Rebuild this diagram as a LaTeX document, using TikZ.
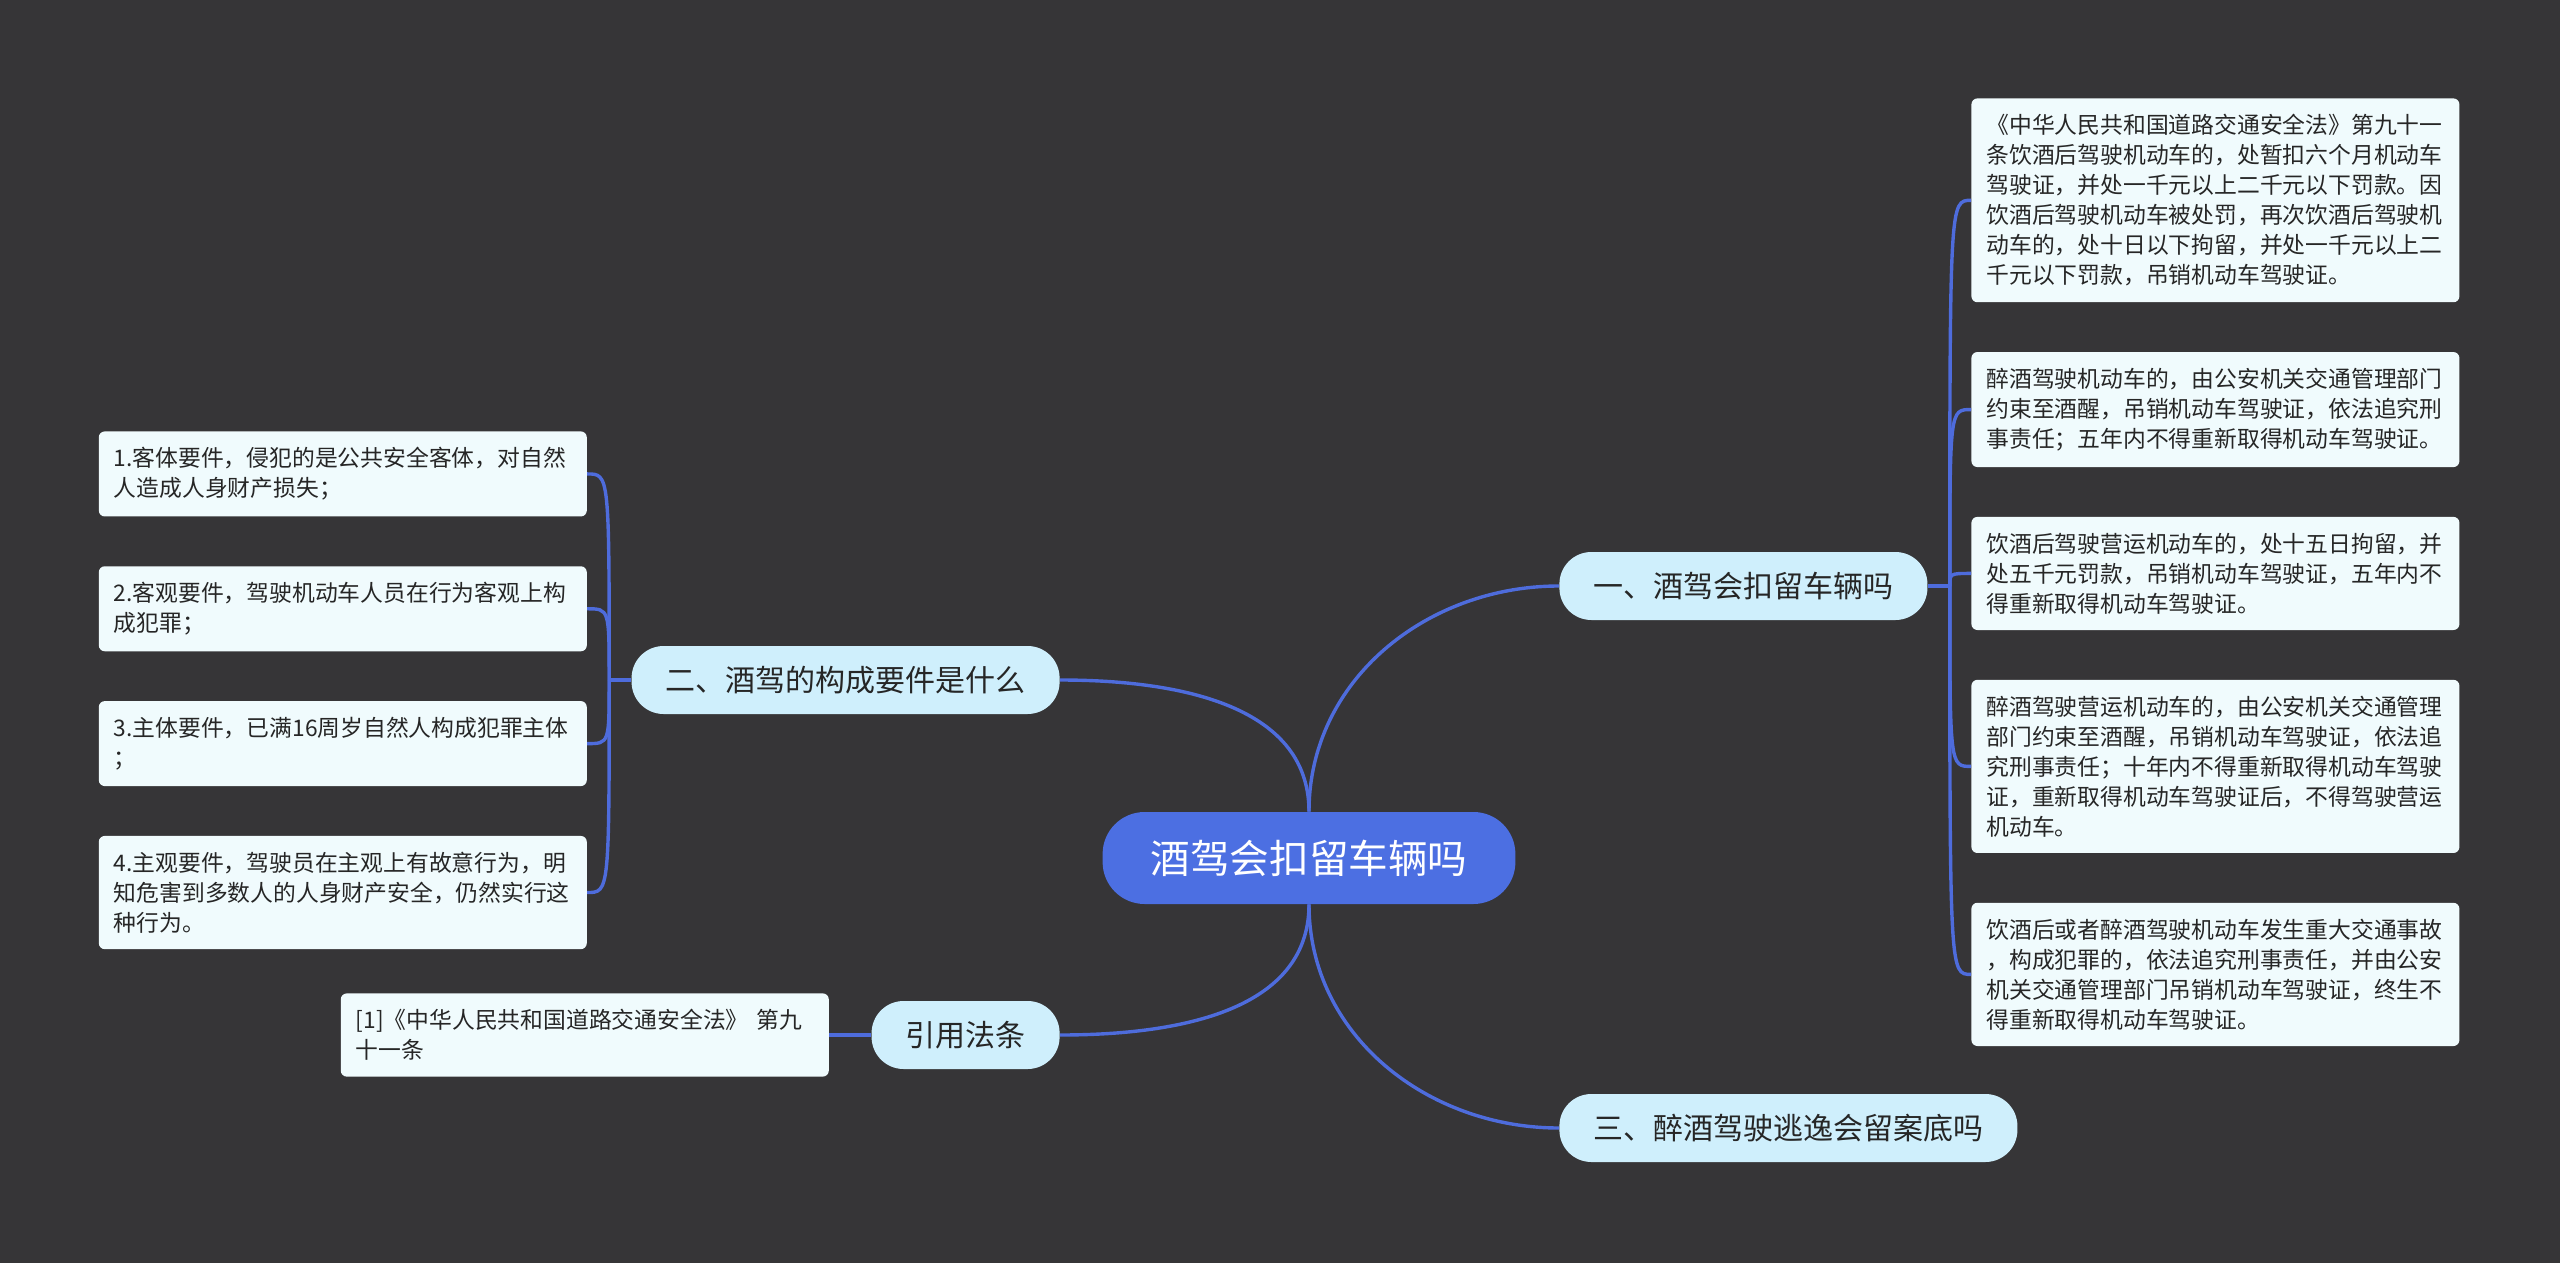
\documentclass[tikz,border=0pt]{standalone}
\usepackage{fontspec}
\newfontfamily\cjk{Noto Sans CJK SC}
\usetikzlibrary{positioning}
\definecolor{bgdark}{RGB}{54,53,55}
\definecolor{linkblue}{RGB}{78,108,220}
\definecolor{mainblue}{RGB}{76,111,226}
\definecolor{branchfill}{RGB}{207,239,252}
\definecolor{leaffill}{RGB}{240,251,253}
\tikzset{
  mainnode/.style={font=\cjk\fontsize{19.8}{24}\selectfont, fill=mainblue, text=white,
    rounded corners=21pt, minimum height=46pt, inner xsep=24pt},
  branch/.style={font=\cjk\fontsize{15}{18}\selectfont, fill=branchfill, text=black!85,
    rounded corners=16pt, minimum height=34pt, inner xsep=17pt},
  leaf/.style={font=\cjk\fontsize{11.4}{15}\selectfont, fill=leaffill, text=black!85,
    rounded corners=3pt, text width=229pt, align=left, inner xsep=7.5pt, inner ysep=8pt},
  link/.style={draw=linkblue, line width=1.7pt}
}
\begin{document}
\begin{tikzpicture}[x=0.5pt, y=-0.5pt, node distance=24.5pt]
    \fill[bgdark] (0,0) rectangle (2560,1263);
    \useasboundingbox (0,0) rectangle (2560,1263);

    \node[mainnode] (main) at (1309,858) {酒驾会扣留车辆吗};

    \node[branch, anchor=west] (b1) at ([shift={(250,-272)}]main.center) {一、酒驾会扣留车辆吗};
    \node[branch, anchor=east] (b2) at ([shift={(-249,-178)}]main.center) {二、酒驾的构成要件是什么};
    \node[branch, anchor=west] (b3) at ([shift={(250,270)}]main.center) {三、醉酒驾驶逃逸会留案底吗};
    \node[branch, anchor=east] (b4) at ([shift={(-249,177)}]main.center) {引用法条};

    \node[leaf, anchor=north west] (r1) at ([shift={(412,-488)}]b1.west) {《中华人民共和国道路交通安全法》第九十一\\条饮酒后驾驶机动车的，处暂扣六个月机动车\\驾驶证，并处一千元以上二千元以下罚款。因\\饮酒后驾驶机动车被处罚，再次饮酒后驾驶机\\动车的，处十日以下拘留，并处一千元以上二\\千元以下罚款，吊销机动车驾驶证。};
    \node[leaf, below=of r1] (r2) {醉酒驾驶机动车的，由公安机关交通管理部门\\约束至酒醒，吊销机动车驾驶证，依法追究刑\\事责任；五年内不得重新取得机动车驾驶证。};
    \node[leaf, below=of r2] (r3) {饮酒后驾驶营运机动车的，处十五日拘留，并\\处五千元罚款，吊销机动车驾驶证，五年内不\\得重新取得机动车驾驶证。};
    \node[leaf, below=of r3] (r4) {醉酒驾驶营运机动车的，由公安机关交通管理\\部门约束至酒醒，吊销机动车驾驶证，依法追\\究刑事责任；十年内不得重新取得机动车驾驶\\证，重新取得机动车驾驶证后，不得驾驶营运\\机动车。};
    \node[leaf, below=of r4] (r5) {饮酒后或者醉酒驾驶机动车发生重大交通事故\\，构成犯罪的，依法追究刑事责任，并由公安\\机关交通管理部门吊销机动车驾驶证，终生不\\得重新取得机动车驾驶证。};

    \node[leaf, anchor=north east] (l1) at ([shift={(-44,-249)}]b2.west) {1.客体要件，侵犯的是公共安全客体，对自然\\人造成人身财产损失；};
    \node[leaf, below=of l1] (l2) {2.客观要件，驾驶机动车人员在行为客观上构\\成犯罪；};
    \node[leaf, below=of l2] (l3) {3.主体要件，已满16周岁自然人构成犯罪主体\\；};
    \node[leaf, below=of l3] (l4) {4.主观要件，驾驶员在主观上有故意行为，明\\知危害到多数人的人身财产安全，仍然实行这\\种行为。};

    \node[leaf, left=21pt of b4] (ref) {[1]《中华人民共和国道路交通安全法》 第九\\十一条};

    \coordinate[right=11pt of b1] (j1);
    \coordinate[left=11pt of b2] (j2);

    \draw[link] (main.north) to[out=90, in=180] (b1.west);
    \draw[link] (main.north) to[out=90, in=0] (b2.east);
    \draw[link] (main.south) to[out=-90, in=180] (b3.west);
    \draw[link] (main.south) to[out=-90, in=0] (b4.east);

    \draw[link] (b1.east) -- (j1);
    \foreach \leaf in {r1,r2,r3,r4,r5}
        \draw[link] (j1) .. controls (j1 |- \leaf.west) .. (\leaf.west);
    \draw[link] (b2.west) -- (j2);
    \foreach \leaf in {l1,l2,l3,l4}
        \draw[link] (j2) .. controls (j2 |- \leaf.east) .. (\leaf.east);
    \draw[link] (b4.west) -- (ref.east);
\end{tikzpicture}
\end{document}
